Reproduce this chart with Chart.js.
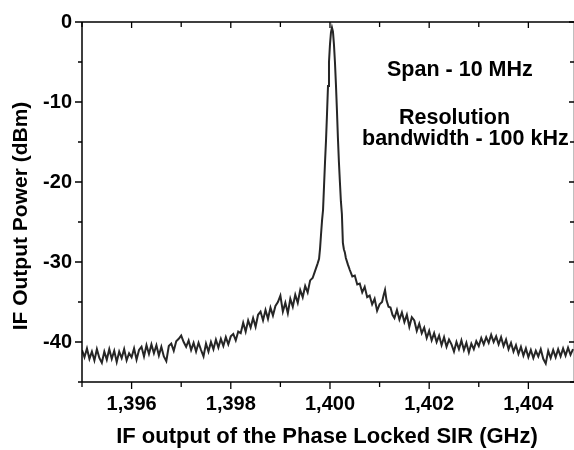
<!DOCTYPE html>
<html>
<head>
<meta charset="utf-8">
<script src="https://cdn.jsdelivr.net/npm/chart.js@4.4.1/dist/chart.umd.min.js"></script>
<style>
  html, body { margin: 0; padding: 0; background: #fff; overflow: hidden; }
  #wrap { width: 574px; height: 450px; position: relative; }
</style>
</head>
<body>
<div id="wrap"><canvas id="chart" width="574" height="450"></canvas></div>
<script>
// frequency axis in MHz, labels shown as GHz with comma decimal
const freqMHz = [
  1395.00, 1395.05, 1395.10, 1395.15, 1395.20, 1395.25, 1395.30, 1395.35, 1395.40, 1395.45,
  1395.50, 1395.55, 1395.60, 1395.65, 1395.70, 1395.75, 1395.80, 1395.85, 1395.90, 1395.95,
  1396.00, 1396.05, 1396.10, 1396.15, 1396.20, 1396.25, 1396.30, 1396.35, 1396.40, 1396.45,
  1396.50, 1396.55, 1396.60, 1396.65, 1396.70, 1396.75, 1396.80, 1396.85, 1396.90, 1396.95,
  1397.00, 1397.05, 1397.10, 1397.15, 1397.20, 1397.25, 1397.30, 1397.35, 1397.40, 1397.45,
  1397.50, 1397.55, 1397.60, 1397.65, 1397.70, 1397.75, 1397.80, 1397.85, 1397.90, 1397.95,
  1398.00, 1398.05, 1398.10, 1398.15, 1398.20, 1398.25, 1398.30, 1398.35, 1398.40, 1398.45,
  1398.50, 1398.55, 1398.60, 1398.65, 1398.70, 1398.75, 1398.80, 1398.85, 1398.90, 1398.95,
  1399.00, 1399.05, 1399.10, 1399.15, 1399.20, 1399.25, 1399.30, 1399.35, 1399.40, 1399.45,
  1399.50, 1399.55, 1399.60, 1399.65, 1399.70, 1399.75, 1399.78,
  1399.80, 1399.82, 1399.84, 1399.86, 1399.88, 1399.90, 1399.92, 1399.94, 1399.96, 1399.98,
  1400.00, 1400.02, 1400.04, 1400.06, 1400.08, 1400.10, 1400.12, 1400.14, 1400.16, 1400.18,
  1400.20, 1400.22, 1400.24, 1400.26, 1400.28, 1400.30,
  1400.32, 1400.36, 1400.40, 1400.45, 1400.50, 1400.55, 1400.60, 1400.65, 1400.70, 1400.75,
  1400.80, 1400.85, 1400.90, 1400.95, 1401.00, 1401.05, 1401.08, 1401.11, 1401.14, 1401.18,
  1401.22, 1401.26, 1401.30, 1401.35, 1401.40, 1401.45, 1401.50, 1401.55, 1401.60, 1401.65,
  1401.70, 1401.75, 1401.80, 1401.85, 1401.90, 1401.95, 1402.00, 1402.05, 1402.10, 1402.15,
  1402.20, 1402.25, 1402.30, 1402.35, 1402.40, 1402.45, 1402.50, 1402.55, 1402.60, 1402.65,
  1402.70, 1402.75, 1402.80, 1402.85, 1402.90, 1402.95, 1403.00, 1403.05, 1403.10, 1403.15,
  1403.20, 1403.25, 1403.30, 1403.35, 1403.40, 1403.45, 1403.50, 1403.55, 1403.60, 1403.65,
  1403.70, 1403.75, 1403.80, 1403.85, 1403.90, 1403.95, 1404.00, 1404.05, 1404.10, 1404.15,
  1404.20, 1404.25, 1404.30, 1404.35, 1404.40, 1404.45, 1404.50, 1404.55, 1404.60, 1404.65,
  1404.70, 1404.75, 1404.80, 1404.85, 1404.90
];

// IF output power (dBm)
const powerDbm = [
  -41.0, -41.9, -40.8, -42.1, -41.2, -42.3, -40.9, -42.0, -42.6, -41.2,
  -42.2, -40.9, -42.1, -41.1, -42.5, -41.2, -42.0, -40.9, -42.3, -41.4,
  -41.9, -40.8, -42.2, -41.0, -40.6, -41.8, -40.4, -41.5, -40.3, -41.4,
  -40.4, -41.7, -40.6, -41.8, -42.4, -40.5, -40.2, -41.1, -39.9, -39.6,
  -39.2, -40.0, -40.6, -39.8, -41.0, -40.1, -41.2, -40.1, -41.0, -41.8,
  -40.2, -41.2, -40.0, -40.9, -39.7, -40.7, -39.6, -40.5, -39.4, -40.3,
  -39.3, -39.0, -39.8, -38.7, -38.9, -37.6, -38.7, -37.3, -38.2, -37.0,
  -38.1, -36.6, -36.2, -37.3, -36.0, -37.1, -35.7, -36.7, -35.5, -35.0,
  -34.2, -36.2, -35.1, -36.4, -34.6, -35.6, -34.1, -35.1, -33.5, -34.4,
  -33.0, -33.8, -32.3, -32.0, -31.1, -30.2, -29.6,
  -28.3, -26.5, -24.8, -23.5, -20.5, -17.5, -14.8, -11.5, -8.0, -5.0,
  -2.8, -1.3, -0.7, -1.2, -2.8, -5.0, -7.8, -11.0, -14.5, -17.5,
  -20.0, -22.4, -24.0, -27.6, -28.4, -28.8,
  -29.5, -30.3, -31.0, -31.8, -31.7, -32.8, -32.7, -33.8, -33.1, -34.4,
  -34.2, -35.3, -34.6, -36.1, -35.3, -35.0, -34.2, -33.5, -34.8, -35.6,
  -35.7, -36.6, -37.0, -36.0, -37.2, -36.3, -37.5, -36.6, -38.1, -36.9,
  -37.3, -38.6, -37.7, -38.9, -38.2, -39.5, -38.6, -39.8, -38.9, -40.0,
  -39.2, -40.4, -39.4, -40.6, -39.7, -40.3, -41.2, -40.0, -40.9, -39.8,
  -41.0, -40.1, -41.3, -40.2, -40.9, -39.9, -40.5, -39.5, -40.3, -39.4,
  -40.1, -39.1, -40.0, -39.3, -40.3, -39.4, -40.5, -39.7, -40.9, -40.1,
  -41.2, -40.4, -41.5, -40.6, -41.7, -40.8, -41.9, -41.0, -42.0, -41.1,
  -41.8, -40.9, -42.1, -42.7, -41.1, -42.0, -41.0, -41.9, -40.9, -41.8,
  -40.8, -41.7, -40.7, -41.6, -40.9
];

const freqTicks = [1396, 1398, 1400, 1402, 1404];
const freqMinorTicks = [1395, 1397, 1399, 1401, 1403];
const powerTicks = [0, -10, -20, -30, -40];
const powerMinorTicks = [-5, -15, -25, -35, -45];

const xTitle = 'IF output of the Phase Locked SIR (GHz)';
const yTitle = 'IF Output Power (dBm)';
const notes = [
  { text: 'Span - 10 MHz', x: 387, y: 70 },
  { text: 'Resolution', x: 399, y: 118 },
  { text: 'bandwidth - 100 kHz', x: 362, y: 139 }
];

const FONT = 'Liberation Sans, Arial, sans-serif';

// box frame, mirrored ticks, titles and notes
const framePlugin = {
  id: 'frame',
  afterDraw(chart) {
    const ctx = chart.ctx;
    const a = chart.chartArea;
    const xs = chart.scales.x;
    const ys = chart.scales.y;
    ctx.save();
    ctx.strokeStyle = '#000';
    ctx.lineWidth = 1.5;
    ctx.beginPath();
    ctx.moveTo(a.left, a.top); ctx.lineTo(a.right + 0.5, a.top);
    ctx.moveTo(a.left, a.top); ctx.lineTo(a.left, a.bottom);
    ctx.moveTo(a.left, a.bottom); ctx.lineTo(a.right + 0.5, a.bottom);
    ctx.moveTo(a.right + 0.5, a.top); ctx.lineTo(a.right + 0.5, a.bottom);
    ctx.stroke();

    ctx.lineWidth = 1.3;
    ctx.beginPath();
    const xTick = (v, outLen, inLen) => {
      const px = xs.getPixelForValue(v);
      ctx.moveTo(px, a.bottom); ctx.lineTo(px, a.bottom + outLen);
      ctx.moveTo(px, a.top); ctx.lineTo(px, a.top + inLen);
    };
    const yTick = (v, outLen, inLen) => {
      const py = ys.getPixelForValue(v);
      ctx.moveTo(a.left, py); ctx.lineTo(a.left - outLen, py);
      ctx.moveTo(a.right, py); ctx.lineTo(a.right - inLen, py);
    };
    freqTicks.forEach(v => xTick(v, 7, 6));
    freqMinorTicks.forEach(v => xTick(v, 5, 5));
    powerTicks.forEach(v => yTick(v, 7, 5));
    powerMinorTicks.forEach(v => yTick(v, 4, 4));
    ctx.stroke();

    ctx.fillStyle = '#000';
    ctx.font = 'bold 22px ' + FONT;
    ctx.textAlign = 'center';
    ctx.textBaseline = 'middle';
    ctx.fillText(xTitle, 327, 437);

    ctx.font = 'bold 21px ' + FONT;
    ctx.save();
    ctx.translate(21, 216);
    ctx.rotate(-Math.PI / 2);
    ctx.fillText(yTitle, 0, 0);
    ctx.restore();

    ctx.font = 'bold 21.5px ' + FONT;
    ctx.textAlign = 'left';
    notes.forEach(n => ctx.fillText(n.text, n.x, n.y));
    ctx.restore();
  }
};

new Chart(document.getElementById('chart'), {
  type: 'line',
  data: {
    datasets: [{
      data: freqMHz.map((f, i) => ({ x: f, y: powerDbm[i] })),
      borderColor: '#262626',
      borderWidth: 2,
      pointRadius: 0,
      tension: 0,
      fill: false
    }]
  },
  options: {
    responsive: false,
    animation: false,
    layout: { padding: { top: 19, right: 0, left: 0, bottom: 0 } },
    plugins: { legend: { display: false }, tooltip: { enabled: false } },
    scales: {
      x: {
        type: 'linear',
        min: 1395,
        max: 1404.92,
        grid: { display: false, drawTicks: false },
        border: { display: false },
        afterBuildTicks: s => { s.ticks = freqTicks.map(v => ({ value: v })); },
        afterFit: s => { s.height = 68; },
        ticks: {
          padding: 10,
          color: '#000',
          font: { family: FONT, size: 20, weight: 'bold' },
          maxRotation: 0,
          callback: v => (v / 1000).toFixed(3).replace('.', ',')
        }
      },
      y: {
        min: -45,
        max: 0,
        grid: { display: false, drawTicks: false },
        border: { display: false },
        afterBuildTicks: s => { s.ticks = powerTicks.map(v => ({ value: v })); },
        afterFit: s => { s.width = 82; },
        ticks: {
          padding: 10,
          color: '#000',
          font: { family: FONT, size: 20, weight: 'bold' },
          callback: v => String(v)
        }
      }
    }
  },
  plugins: [framePlugin]
});
</script>
</body>
</html>
